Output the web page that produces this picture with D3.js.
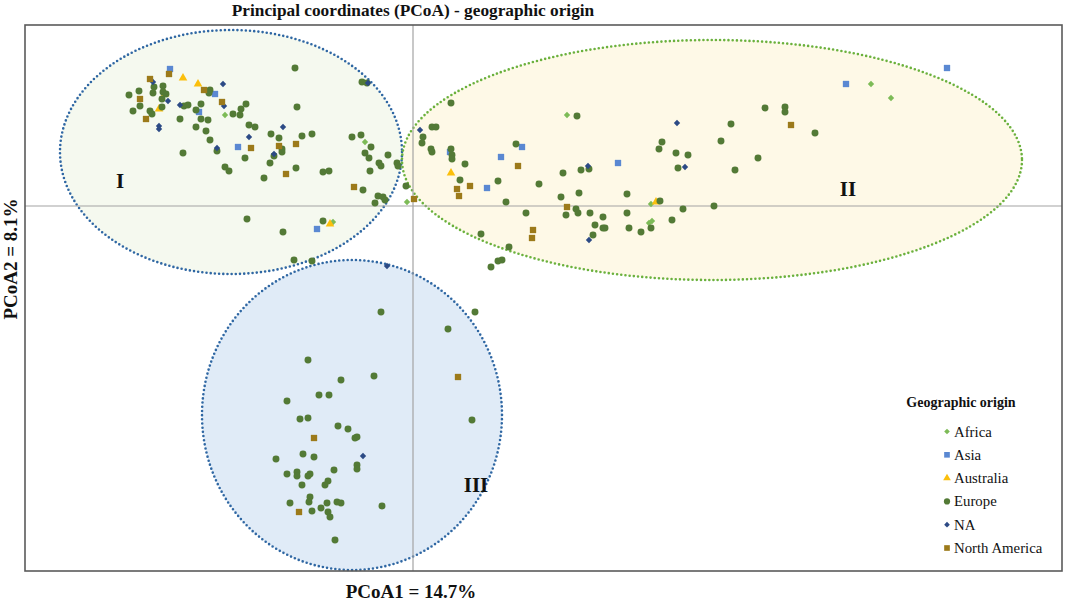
<!DOCTYPE html>
<html>
<head>
<meta charset="utf-8">
<script src="https://cdn.jsdelivr.net/npm/d3@7"></script>
<style>
	body { margin: 0; background: #fff; }
	text { font-family: "Liberation Serif", "DejaVu Serif", serif; fill: #111; }
</style>
</head>
<body>
<script>
// PCoA coordinates per geographic origin, [PCoA1, PCoA2]
const africa = [[-0.188,0.091],[-0.048,0.064],[-0.006,0.004],[-0.080,-0.016],[0.154,0.091],
	[0.458,0.122],[0.478,0.108],[0.236,-0.017],[0.239,-0.015],[0.238,0.002]];

const asia = [[-0.243,0.137],[-0.198,0.112],[-0.214,0.094],[-0.175,0.059],[-0.096,-0.023],
	[0.534,0.138],[0.433,0.122],[0.037,0.054],[0.109,0.059],[0.088,0.049],[0.074,0.018],[0.205,0.043]];

const australia = [[-0.230,0.128],[-0.215,0.122],[-0.254,0.097],[-0.248,0.112],[-0.083,-0.018],
	[0.038,0.033],[0.243,0.004]];

const europe = [
	// group I
	[-0.118,0.138],[-0.051,0.124],[-0.046,0.123],[-0.250,0.120],[-0.259,0.119],[-0.203,0.116],
	[-0.204,0.113],[-0.284,0.111],[-0.274,0.115],[-0.260,0.113],[-0.250,0.114],[-0.247,0.112],
	[-0.251,0.107],[-0.273,0.100],[-0.167,0.102],[-0.229,0.100],[-0.225,0.101],[-0.212,0.102],
	[-0.251,0.099],[-0.263,0.095],[-0.261,0.092],[-0.280,0.095],[-0.217,0.096],[-0.172,0.097],
	[-0.180,0.092],[-0.173,0.091],[-0.116,0.099],[-0.233,0.087],[-0.212,0.087],[-0.205,0.086],
	[-0.164,0.081],[-0.158,0.079],[-0.217,0.079],[-0.207,0.075],[-0.142,0.072],[-0.134,0.068],
	[-0.111,0.070],[-0.101,0.072],[-0.203,0.066],[-0.061,0.069],[-0.052,0.071],[-0.042,0.059],
	[-0.196,0.055],[-0.131,0.057],[-0.131,0.054],[-0.230,0.053],[-0.139,0.050],[-0.168,0.048],
	[-0.143,0.043],[-0.048,0.053],[-0.044,0.048],[-0.025,0.051],[-0.034,0.043],[-0.032,0.040],
	[-0.016,0.043],[-0.015,0.040],[-0.043,0.035],[-0.188,0.039],[-0.184,0.035],[-0.117,0.038],
	[-0.090,0.034],[-0.084,0.035],[-0.149,0.028],[-0.007,0.020],[-0.050,0.016],[-0.035,0.010],
	[-0.030,0.009],[-0.028,0.006],[-0.038,0.003],[-0.166,-0.013],[-0.130,-0.026],[-0.090,-0.015],
	[-0.119,-0.054],[-0.101,-0.055],
	// group II
	[0.038,0.103],[0.019,0.079],[0.023,0.079],[0.010,0.069],[0.009,0.063],[0.018,0.057],
	[0.019,0.054],[0.038,0.057],[0.039,0.051],[0.039,0.047],[0.052,0.042],[0.103,0.062],
	[0.047,0.026],[0.085,0.025],[0.093,0.004],[0.126,0.022],[0.150,0.033],[0.168,0.036],
	[0.176,0.037],[0.164,0.090],[0.249,0.064],[0.246,0.057],[0.263,0.053],[0.275,0.051],
	[0.265,0.038],[0.308,0.065],[0.318,0.082],[0.345,0.048],[0.322,0.036],[0.352,0.098],
	[0.372,0.099],[0.372,0.094],[0.402,0.073],[0.148,0.009],[0.166,0.013],[0.214,0.012],
	[0.247,0.005],[0.153,-0.009],[0.163,-0.003],[0.165,-0.007],[0.177,-0.007],[0.190,-0.011],
	[0.214,-0.007],[0.182,-0.019],[0.190,-0.022],[0.192,-0.022],[0.180,-0.029],[0.216,-0.022],
	[0.228,-0.026],[0.238,-0.022],[0.259,-0.014],[0.270,-0.003],[0.301,0.000],[0.113,-0.007],
	[0.068,-0.028],[0.096,-0.041],[0.085,-0.055],[0.089,-0.054],[0.078,-0.061],
	// group III
	[-0.032,-0.106],[0.062,-0.106],[0.035,-0.123],[0.059,-0.214],[-0.105,-0.154],[-0.072,-0.174],
	[-0.039,-0.170],[-0.094,-0.189],[-0.084,-0.189],[-0.126,-0.195],[-0.113,-0.213],[-0.105,-0.212],
	[-0.075,-0.220],[-0.065,-0.223],[-0.058,-0.232],[-0.056,-0.231],[-0.110,-0.248],[-0.099,-0.251],
	[-0.137,-0.253],[-0.056,-0.259],[-0.056,-0.263],[-0.126,-0.268],[-0.116,-0.266],[-0.116,-0.270],
	[-0.105,-0.270],[-0.103,-0.268],[-0.079,-0.264],[-0.111,-0.279],[-0.085,-0.275],[-0.088,-0.279],
	[-0.103,-0.291],[-0.104,-0.296],[-0.123,-0.297],[-0.092,-0.302],[-0.086,-0.297],[-0.076,-0.296],
	[-0.072,-0.297],[-0.101,-0.305],[-0.085,-0.306],[-0.083,-0.311],[-0.031,-0.300],[-0.078,-0.334]
];

const na = [[-0.190,0.122],[-0.260,0.124],[-0.245,0.105],[-0.189,0.100],[-0.233,0.101],
	[-0.254,0.080],[-0.254,0.077],[-0.130,0.079],[-0.164,0.069],[-0.196,0.058],[-0.139,0.052],
	[-0.045,0.123],[-0.026,-0.060],[0.007,0.076],[0.264,0.083],[0.175,0.040],[0.272,0.039],
	[0.176,-0.034],[-0.050,-0.250]];

const northAmerica = [[-0.244,0.132],[-0.263,0.127],[-0.209,0.116],[-0.273,0.107],[-0.191,0.104],
	[-0.267,0.087],[-0.162,0.058],[-0.134,0.060],[-0.117,0.062],[-0.127,0.032],[-0.059,0.019],
	[0.001,0.007],[0.378,0.081],[0.105,0.040],[0.044,0.017],[0.046,0.010],[0.057,0.020],
	[0.154,-0.001],[0.120,-0.024],[0.119,-0.032],[0.045,-0.171],[-0.099,-0.232],[-0.114,-0.306]];

const seriesNames = ["Africa", "Asia", "Australia", "Europe", "NA", "North America"];

// cluster outlines: name, centre, radii (data units)
const clusterNames = ["I", "II", "III"];
const clusterCentres = [[-0.182,0.054],[0.299,0.046],[-0.061,-0.209]];
const clusterRadii = [[0.171,0.122],[0.310,0.120],[0.150,0.155]];
const clusterLabelPos = [[-0.293,0.018],[0.435,0.010],[0.063,-0.286]];

const series = [
	{name: seriesNames[0], data: africa, color: "#7dbb57", symbol: d3.symbolSquare, size: 20, rot: 45},
	{name: seriesNames[1], data: asia, color: "#5a88d2", symbol: d3.symbolSquare, size: 40, rot: 0},
	{name: seriesNames[2], data: australia, color: "#fbbf0c", symbol: d3.symbolTriangle, size: 32, rot: 0},
	{name: seriesNames[3], data: europe, color: "#537a36", symbol: d3.symbolCircle, size: 38, rot: 0},
	{name: seriesNames[4], data: na, color: "#2c4a85", symbol: d3.symbolSquare, size: 20, rot: 45},
	{name: seriesNames[5], data: northAmerica, color: "#9c7a1a", symbol: d3.symbolSquare, size: 40, rot: 0}
];

const clusterStyle = [
	{fill: "#f5f9ef", stroke: "#2f67a3"},
	{fill: "#fef9e7", stroke: "#6bb13d"},
	{fill: "#e0ebf7", stroke: "#2f67a3"}
];

function drawGraph(){
	const width = 1065;
	const height = 602;
	const plot = {left: 25, right: 1062, top: 25, bottom: 571};

	let svg = d3.select("body")
		.append("svg")
		.attr("width", width)
		.attr("height", height);

	let xScale = d3.scaleLinear()
		.domain([-0.388, 0.649])
		.range([plot.left, plot.right]);
	let yScale = d3.scaleLinear()
		.domain([-0.365, 0.181])
		.range([plot.bottom, plot.top]);

	// cluster ellipses
	let clusters = clusterNames.map((n, i) => ({
		name: n, c: clusterCentres[i], r: clusterRadii[i], lab: clusterLabelPos[i], style: clusterStyle[i]
	}));

	svg.append("g").selectAll("ellipse")
		.data(clusters)
		.enter().append("ellipse")
			.attr("cx", d => xScale(d.c[0]))
			.attr("cy", d => yScale(d.c[1]))
			.attr("rx", d => xScale(d.r[0]) - xScale(0))
			.attr("ry", d => yScale(0) - yScale(d.r[1]))
			.style("fill", d => d.style.fill);

	svg.append("g").selectAll("ellipse")
		.data(clusters)
		.enter().append("ellipse")
			.attr("cx", d => xScale(d.c[0]))
			.attr("cy", d => yScale(d.c[1]))
			.attr("rx", d => xScale(d.r[0]) - xScale(0))
			.attr("ry", d => yScale(0) - yScale(d.r[1]))
			.style("fill", "none")
			.style("stroke", d => d.style.stroke)
			.style("stroke-width", 2.6)
			.style("stroke-linecap", "round")
			.style("stroke-dasharray", "0 4.2");

	// zero lines
	let axes = svg.append("g").style("stroke", "#a3a3a3").style("stroke-width", 1.2);
	axes.append("line")
		.attr("x1", xScale(0)).attr("x2", xScale(0))
		.attr("y1", plot.top).attr("y2", plot.bottom);
	axes.append("line")
		.attr("x1", plot.left).attr("x2", plot.right)
		.attr("y1", yScale(0)).attr("y2", yScale(0));

	// cluster labels
	svg.append("g").selectAll("text")
		.data(clusters)
		.enter().append("text")
			.attr("x", d => xScale(d.lab[0]))
			.attr("y", d => yScale(d.lab[1]))
			.attr("text-anchor", "middle")
			.style("font-size", "21px")
			.style("font-weight", "bold")
			.text(d => d.name);

	// points
	series.forEach(s => {
		let sym = d3.symbol().type(s.symbol).size(s.size);
		svg.append("g").selectAll("path")
			.data(s.data)
			.enter().append("path")
				.attr("d", sym)
				.attr("transform", d => "translate(" + xScale(d[0]) + "," + yScale(d[1]) + ") rotate(" + s.rot + ")")
				.style("fill", s.color);
	});

	// frame
	svg.append("rect")
		.attr("x", plot.left).attr("y", plot.top)
		.attr("width", plot.right - plot.left)
		.attr("height", plot.bottom - plot.top)
		.style("fill", "none")
		.style("stroke", "#5a5a5a")
		.style("stroke-width", 1.6);

	// titles
	svg.append("text")
		.attr("x", xScale(0))
		.attr("y", 16)
		.attr("text-anchor", "middle")
		.style("font-size", "17.3px")
		.style("font-weight", "bold")
		.text("Principal coordinates (PCoA) - geographic origin");

	svg.append("text")
		.attr("x", 411)
		.attr("y", 598)
		.attr("text-anchor", "middle")
		.style("font-size", "19px")
		.style("font-weight", "bold")
		.text("PCoA1 = 14.7%");

	svg.append("text")
		.attr("transform", "translate(17,259) rotate(-90)")
		.attr("text-anchor", "middle")
		.style("font-size", "19px")
		.style("font-weight", "bold")
		.text("PCoA2 = 8.1%");

	// legend
	let legend = svg.append("g").attr("transform", "translate(947,0)");
	legend.append("text")
		.attr("x", 14)
		.attr("y", 407)
		.attr("text-anchor", "middle")
		.style("font-size", "14px")
		.style("font-weight", "bold")
		.text("Geographic origin");

	let item = legend.selectAll(".item")
		.data(series)
		.enter().append("g")
			.attr("class", "item")
			.attr("transform", (d, i) => "translate(0," + (431.5 + i * 23.3) + ")");
	item.append("path")
		.attr("d", d => d3.symbol().type(d.symbol).size(d.size * 0.8)())
		.attr("transform", d => "rotate(" + d.rot + ")")
		.style("fill", d => d.color);
	item.append("text")
		.attr("x", 7)
		.attr("y", 5)
		.style("font-size", "14.8px")
		.text(d => d.name);
}

drawGraph();
</script>
</body>
</html>
